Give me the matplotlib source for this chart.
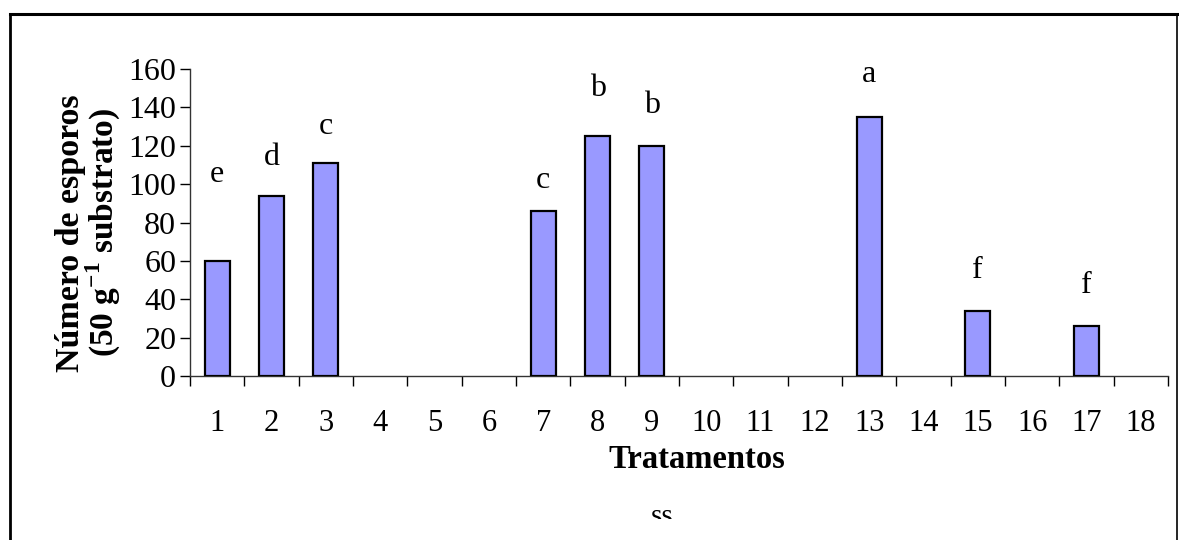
import numpy as np
import matplotlib.pyplot as plt
from matplotlib.patches import Rectangle
from matplotlib.lines import Line2D

# Data
tratamentos = list(range(1, 19))
esporos = [60, 94, 111, 0, 0, 0, 86, 125, 120, 0, 0, 0, 135, 0, 34, 0, 26, 0]
letras = ["e", "d", "c", "", "", "", "c", "b", "b", "", "", "", "a", "", "f", "", "f", ""]
letra_y = [105, 114, 130, 0, 0, 0, 102, 150, 141, 0, 0, 0, 157, 0, 55, 0, 47, 0]
y_ticks = [0, 20, 40, 60, 80, 100, 120, 140, 160]

plt.rcParams['font.family'] = ['Liberation Serif', 'DejaVu Serif']
plt.rcParams['mathtext.fontset'] = 'custom'
plt.rcParams['mathtext.rm'] = 'Liberation Serif'
plt.rcParams['mathtext.bf'] = 'Liberation Serif:bold'

fig = plt.figure(figsize=(11.79, 5.40), dpi=100)
ax = fig.add_axes([0.1612, 0.3037, 0.9907 - 0.1612, 0.8722 - 0.3037])

x = np.array(tratamentos)
vals = np.array(esporos)
mask = vals > 0
ax.bar(x[mask], vals[mask], width=0.46, color='#9999FF', edgecolor='black', linewidth=1.6, zorder=3)

for xi, lt, ly in zip(tratamentos, letras, letra_y):
    if lt:
        ax.text(xi, ly, lt, ha='center', va='center', fontsize=23)

ax.set_xlim(0.5, 18.5)
ax.set_ylim(0, 160)
ax.set_yticks(y_ticks)
ax.set_yticklabels([str(v) for v in y_ticks], fontsize=23)
ax.set_xticks(tratamentos)
ax.set_xticklabels([str(t) for t in tratamentos], fontsize=22)
ax.set_xticks(np.arange(0.5, 19, 1), minor=True)
ax.tick_params(axis='x', which='major', length=0, pad=24)
ax.tick_params(axis='x', which='minor', length=7, width=1, direction='out')
ax.tick_params(axis='y', length=7, width=1, direction='out', pad=3)

for s in ['top', 'right']:
    ax.spines[s].set_visible(False)
for s in ['left', 'bottom']:
    ax.spines[s].set_linewidth(1)
    ax.spines[s].set_color('#333333')

fig.text(0.06, 0.568, 'Número de esporos', rotation=90, ha='center', va='center',
         fontsize=24.5, fontweight='bold')
fig.text(0.088, 0.57, r'(50 g$^{\mathbf{-1}}$ substrato)', rotation=90, ha='center', va='center',
         fontsize=24, fontweight='bold')
fig.text(0.591, 0.149, 'Tratamentos', ha='center', va='center', fontsize=23.5, fontweight='bold')

# clipped text fragment at the bottom
fig.text(651 / 1179, 0.0296, 'ss', ha='left', va='baseline', fontsize=21)
fig.patches.append(Rectangle((0.52, 0.0), 0.12, 1 - 519 / 540, transform=fig.transFigure,
                             facecolor='white', edgecolor='none', zorder=10))

# outer frame
top_y = 1 - 14 / 540
left_x = 10 / 1179
right_x = 1177 / 1179
fig.lines.append(Line2D([left_x, 1.0], [top_y, top_y], transform=fig.transFigure,
                        color='black', linewidth=2.2))
fig.lines.append(Line2D([left_x, left_x], [0, top_y], transform=fig.transFigure,
                        color='black', linewidth=2.0))
fig.lines.append(Line2D([right_x, right_x], [0, top_y], transform=fig.transFigure,
                        color='black', linewidth=1.2))

fig.savefig('out.png', dpi=100)
